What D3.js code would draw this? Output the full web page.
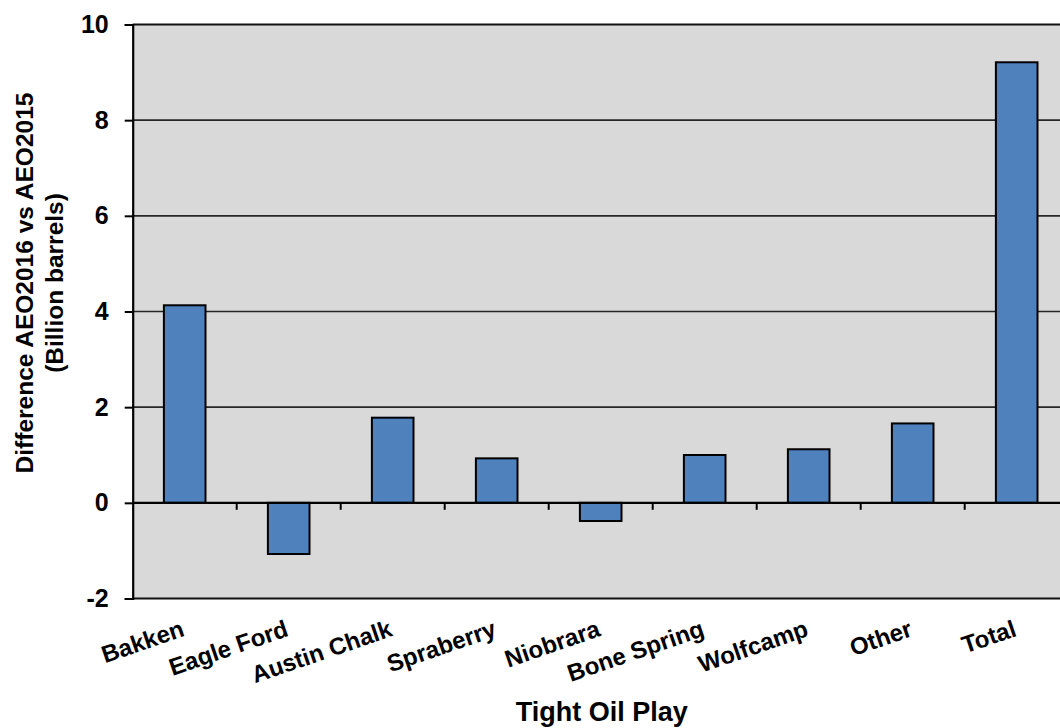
<!DOCTYPE html>
<html>
<head>
<meta charset="utf-8">
<script src="https://cdn.jsdelivr.net/npm/d3@7"></script>
<style>
  html, body { margin: 0; padding: 0; background: #ffffff; }
  svg { display: block; font-family: "Liberation Sans", Arial, Helvetica, sans-serif; font-weight: bold; }
</style>
</head>
<body>
<svg id="chart" width="1060" height="728"></svg>
<script>
const categories = ["Bakken", "Eagle Ford", "Austin Chalk", "Spraberry", "Niobrara", "Bone Spring", "Wolfcamp", "Other", "Total"];
const values = [4.13, -1.07, 1.78, 0.93, -0.38, 1.0, 1.12, 1.66, 9.21];
const yTicks = [-2, 0, 2, 4, 6, 8, 10];
const yTitleLines = ["Difference AEO2016 vs AEO2015", "(Billion barrels)"];
const xTitle = "Tight Oil Play";

const svg = d3.select("#chart");
const pLeft = 132.7, pRight = 1068.7, pTop = 24.5, pBottom = 598.5;

const x = d3.scaleBand().domain(categories).range([pLeft, pRight]).paddingInner(0.6).paddingOuter(0.3);
const y = d3.scaleLinear().domain([-2, 10]).range([pBottom, pTop]);

// plot background
svg.append("rect").attr("x", pLeft).attr("y", pTop).attr("width", pRight - pLeft).attr("height", pBottom - pTop).attr("fill", "#d9d9d9");

// gridlines
svg.append("g").selectAll("line").data(yTicks.filter(d => d !== 0 && d !== -2 && d !== 10)).join("line")
  .attr("x1", pLeft).attr("x2", pRight).attr("y1", d => y(d)).attr("y2", d => y(d))
  .attr("stroke", "#262626").attr("stroke-width", 1.6);
// top and bottom border lines
svg.append("g").selectAll("line").data([-2, 10]).join("line")
  .attr("x1", pLeft).attr("x2", pRight).attr("y1", d => y(d)).attr("y2", d => y(d))
  .attr("stroke", "#111").attr("stroke-width", 2);

// bars
svg.append("g").selectAll("rect").data(values).join("rect")
  .attr("x", (d, i) => x(categories[i]))
  .attr("width", x.bandwidth())
  .attr("y", d => y(Math.max(0, d)))
  .attr("height", d => Math.abs(y(d) - y(0)))
  .attr("fill", "#4f81bd").attr("stroke", "#000").attr("stroke-width", 2);

// y axis
const yAxis = d3.axisLeft(y).tickValues(yTicks).tickSize(8).tickPadding(16).tickFormat(d => String(d));
const gy = svg.append("g").attr("transform", `translate(${pLeft},0)`).call(yAxis);
gy.select(".domain").attr("stroke", "#000").attr("stroke-width", 2.2);
gy.selectAll(".tick line").attr("stroke", "#000").attr("stroke-width", 2);
gy.selectAll(".tick text").attr("fill", "#000").style("font-size", "25px").style("font-weight", "bold")
  .style("font-family", "'Liberation Sans', Arial, sans-serif");

// x axis on zero line
const step = x.step();
svg.append("line").attr("x1", pLeft).attr("x2", pRight).attr("y1", y(0)).attr("y2", y(0))
  .attr("stroke", "#000").attr("stroke-width", 2.2);
svg.append("g").selectAll("line").data(d3.range(1, categories.length)).join("line")
  .attr("x1", i => pLeft + i * step).attr("x2", i => pLeft + i * step)
  .attr("y1", y(0)).attr("y2", y(0) + 7)
  .attr("stroke", "#000").attr("stroke-width", 2);

// category labels
svg.append("g").selectAll("text").data(categories).join("text")
  .attr("transform", d => `translate(${x(d) + x.bandwidth() / 2 + 1},${pBottom + 37}) rotate(-19)`)
  .attr("text-anchor", "end")
  .style("font-size", "24px")
  .attr("fill", "#000")
  .text(d => d);

// x title
svg.append("text").attr("x", (pLeft + pRight) / 2 + 1).attr("y", 721)
  .attr("text-anchor", "middle").style("font-size", "27px").attr("fill", "#000").text(xTitle);

// y title
const yt = svg.append("text").attr("transform", `translate(33,${283}) rotate(-90)`)
  .attr("text-anchor", "middle").style("font-size", "24.5px").attr("fill", "#000");
yt.append("tspan").attr("x", 0).attr("dy", 0).text(yTitleLines[0]);
yt.append("tspan").attr("x", 0).attr("dy", 30).text(yTitleLines[1]);
</script>
</body>
</html>
